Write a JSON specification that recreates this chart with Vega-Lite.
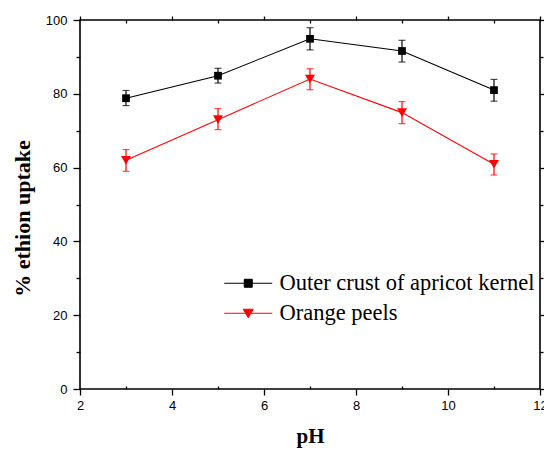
{
  "$schema": "https://vega.github.io/schema/vega-lite/v6.json",
  "width": 460,
  "height": 369,
  "autosize": "none",
  "padding": {"left": 80, "top": 20, "right": 4, "bottom": 60},
  "background": "white",
  "config": {
    "view": {"stroke": "#000000", "strokeWidth": 1.6},
    "axis": {
      "grid": false,
      "domain": false,
      "labelFont": "Liberation Sans",
      "labelFontSize": 13,
      "labelColor": "#000000",
      "tickColor": "#000000",
      "tickWidth": 1.3,
      "titleFont": "Liberation Serif",
      "titleFontSize": 21,
      "titleFontWeight": "bold",
      "titleColor": "#000000"
    },
    "legend": {
      "labelFont": "Liberation Serif",
      "labelFontSize": 22.5,
      "labelColor": "#000000",
      "labelLimit": 400,
      "symbolOpacity": 1
    }
  },
  "data": {
    "values": [
      {"series": "Outer crust of apricot kernel", "pH": 3, "uptake": 78.8, "lo": 76.8, "hi": 80.9},
      {"series": "Outer crust of apricot kernel", "pH": 5, "uptake": 84.9, "lo": 82.9, "hi": 86.9},
      {"series": "Outer crust of apricot kernel", "pH": 7, "uptake": 94.9, "lo": 91.9, "hi": 97.9},
      {"series": "Outer crust of apricot kernel", "pH": 9, "uptake": 91.6, "lo": 88.6, "hi": 94.5},
      {"series": "Outer crust of apricot kernel", "pH": 11, "uptake": 81.0, "lo": 78.0, "hi": 83.9},
      {"series": "Orange peels", "pH": 3, "uptake": 62.0, "lo": 59.0, "hi": 64.9},
      {"series": "Orange peels", "pH": 5, "uptake": 73.0, "lo": 70.3, "hi": 76.0},
      {"series": "Orange peels", "pH": 7, "uptake": 84.0, "lo": 81.1, "hi": 86.8},
      {"series": "Orange peels", "pH": 9, "uptake": 74.9, "lo": 71.9, "hi": 77.9},
      {"series": "Orange peels", "pH": 11, "uptake": 60.9, "lo": 58.0, "hi": 63.7}
    ]
  },
  "encoding": {
    "color": {
      "field": "series",
      "type": "nominal",
      "scale": {"domain": ["Outer crust of apricot kernel", "Orange peels"], "range": ["#000000", "#ff0000"]},
      "legend": {
        "orient": "none",
        "legendX": 157,
        "legendY": 252,
        "title": null,
        "labelOffset": 20,
        "rowPadding": 7,
        "symbolSize": 400,
        "encode": {
          "labels": {
            "update": {
              "font": {"value": "Liberation Serif"},
              "fontSize": {"value": 22.5}
            }
          },
          "symbols": {
            "update": {
              "shape": {"signal": "datum.value === 'Orange peels' ? 'M-2.4,0H2.4M-0.5,-0.4H0.5L0,0.45Z' : 'M-2.4,0H2.4M-0.4,-0.4H0.4V0.4H-0.4Z'"},
              "fill": {"scale": "color", "field": "value"},
              "stroke": {"scale": "color", "field": "value"},
              "strokeWidth": {"value": 1},
              "size": {"value": 400},
              "opacity": {"value": 1}
            }
          }
        }
      }
    }
  },
  "layer": [
    {
      "mark": {"type": "rule", "strokeWidth": 1.2},
      "encoding": {
        "x": {"field": "pH", "type": "quantitative", "scale": {"domain": [2, 12], "nice": false},
          "axis": {"orient": "bottom", "values": [2, 4, 6, 8, 10, 12], "tickSize": 6, "labelPadding": 4, "labelFlush": false, "title": "pH", "titlePadding": 13}},
        "y": {"field": "lo", "type": "quantitative", "scale": {"domain": [0, 100], "nice": false},
          "axis": {"orient": "left", "values": [0, 20, 40, 60, 80, 100], "tickSize": 7, "labelPadding": 6, "title": "% ethion uptake", "titleFontSize": 22, "titleY": 198, "titlePadding": 11}},
        "y2": {"field": "hi"}
      }
    },
    {
      "mark": {"type": "tick", "orient": "horizontal", "size": 7, "thickness": 1.2},
      "encoding": {
        "x": {"field": "pH", "type": "quantitative",
          "axis": {"orient": "bottom", "values": [3, 5, 7, 9, 11], "tickSize": -3, "labels": false, "title": null}},
        "y": {"field": "lo", "type": "quantitative",
          "axis": {"orient": "left", "values": [10, 30, 50, 70, 90], "tickSize": 4, "labels": false, "title": null}}
      }
    },
    {
      "mark": {"type": "tick", "orient": "horizontal", "size": 7, "thickness": 1.2},
      "encoding": {
        "x": {"field": "pH", "type": "quantitative",
          "axis": {"orient": "top", "values": [2, 4, 6, 8, 10, 12], "tickSize": 4, "labels": false, "title": null}},
        "y": {"field": "hi", "type": "quantitative",
          "axis": {"orient": "right", "values": [0, 20, 40, 60, 80, 100], "tickSize": 5, "labels": false, "title": null}}
      }
    },
    {
      "mark": {"type": "line", "strokeWidth": 1.1},
      "encoding": {
        "x": {"field": "pH", "type": "quantitative",
          "axis": {"orient": "top", "values": [3, 5, 7, 9, 11], "tickSize": -3, "labels": false, "title": null}},
        "y": {"field": "uptake", "type": "quantitative",
          "axis": {"orient": "right", "values": [10, 30, 50, 70, 90], "tickSize": 3, "labels": false, "title": null}}
      }
    },
    {
      "transform": [{"filter": "datum.series === 'Outer crust of apricot kernel'"}],
      "mark": {"type": "point", "filled": true, "opacity": 1, "shape": "square", "size": 60},
      "encoding": {
        "x": {"field": "pH", "type": "quantitative", "axis": null},
        "y": {"field": "uptake", "type": "quantitative", "axis": null}
      }
    },
    {
      "transform": [{"filter": "datum.series === 'Orange peels'"}],
      "mark": {"type": "point", "filled": true, "opacity": 1, "shape": "triangle-down", "size": 100},
      "encoding": {
        "x": {"field": "pH", "type": "quantitative", "axis": null},
        "y": {"field": "uptake", "type": "quantitative", "axis": null}
      }
    }
  ],
  "resolve": {"axis": {"x": "independent", "y": "independent"}}
}
